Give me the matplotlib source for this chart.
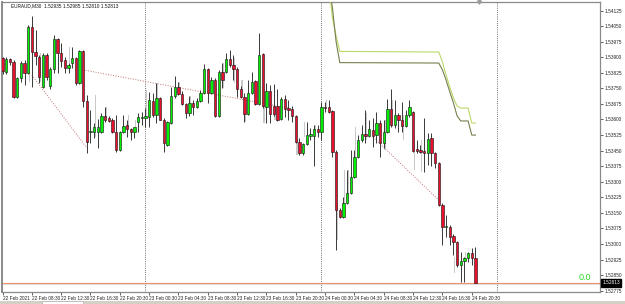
import numpy as np
import pandas as pd
import matplotlib
matplotlib.use("Agg")
import matplotlib.pyplot as plt
import matplotlib.transforms as mtransforms
from matplotlib.patches import Rectangle

symbol = "EURAUD,M30"
start_time = "2021-02-22 04:30"

opens = [1.53896, 1.53829, 1.53892, 1.53877, 1.53708, 1.53800, 1.53872, 1.53824, 1.54046, 1.53925,
         1.53901, 1.53757, 1.53911, 1.53761, 1.53843, 1.53988, 1.53921, 1.53887, 1.53848, 1.53872,
         1.53896, 1.53776, 1.53930, 1.53689, 1.53540, 1.53540, 1.53540, 1.53540, 1.53617, 1.53607,
         1.53598, 1.53540, 1.53453, 1.53540, 1.53573, 1.53554, 1.53540, 1.53588, 1.53607, 1.53607,
         1.53612, 1.53689, 1.53622, 1.53704, 1.53598, 1.53477, 1.53583, 1.53713, 1.53757, 1.53723,
         1.53675, 1.53631, 1.53680, 1.53660, 1.53689, 1.53728, 1.53843, 1.53728, 1.53790, 1.53617,
         1.53829, 1.53829, 1.53892, 1.53863, 1.53843, 1.53747, 1.53708, 1.53627, 1.53728, 1.53786,
         1.53675, 1.53916, 1.53660, 1.53737, 1.53665, 1.53665, 1.53602, 1.53699, 1.53655, 1.53651,
         1.53617, 1.53492, 1.53439, 1.53482, 1.53520, 1.53520, 1.53554, 1.53540, 1.53660, 1.53660,
         1.53641, 1.53443, 1.53164, 1.53130, 1.53198, 1.53246, 1.53323, 1.53419, 1.53501, 1.53530,
         1.53520, 1.53549, 1.53525, 1.53583, 1.53487, 1.53540, 1.53651, 1.53573, 1.53622, 1.53598,
         1.53569, 1.53622, 1.53636, 1.53458, 1.53453, 1.53448, 1.53439, 1.53511, 1.53439, 1.53390,
         1.53188, 1.53082, 1.53082, 1.53038, 1.53010, 1.52899, 1.52918, 1.52932, 1.52957, 1.52935]
highs = [1.53901, 1.53901, 1.53896, 1.53887, 1.53805, 1.53882, 1.53887, 1.54055, 1.54099, 1.54031,
         1.53911, 1.53921, 1.53921, 1.53853, 1.54007, 1.53993, 1.53969, 1.53901, 1.53872, 1.53949,
         1.53901, 1.53935, 1.53935, 1.53718, 1.53646, 1.53583, 1.53602, 1.53631, 1.53660, 1.53617,
         1.53607, 1.53622, 1.53545, 1.53622, 1.53598, 1.53559, 1.53564, 1.53631, 1.53636, 1.53655,
         1.53733, 1.53728, 1.53776, 1.53708, 1.53607, 1.53593, 1.53757, 1.53810, 1.53781, 1.53737,
         1.53680, 1.53713, 1.53694, 1.53704, 1.53742, 1.53868, 1.53848, 1.53805, 1.53800, 1.53839,
         1.53872, 1.53921, 1.53935, 1.53911, 1.53853, 1.53761, 1.53728, 1.53790, 1.53829, 1.53790,
         1.54017, 1.53921, 1.53776, 1.53766, 1.53771, 1.53747, 1.53708, 1.53718, 1.53694, 1.53665,
         1.53622, 1.53511, 1.53487, 1.53588, 1.53559, 1.53573, 1.53573, 1.53684, 1.53684, 1.53694,
         1.53646, 1.53453, 1.53173, 1.53226, 1.53357, 1.53453, 1.53453, 1.53525, 1.53573, 1.53646,
         1.53598, 1.53607, 1.53636, 1.53598, 1.53598, 1.53699, 1.53747, 1.53694, 1.53631, 1.53684,
         1.53646, 1.53694, 1.53641, 1.53501, 1.53477, 1.53607, 1.53535, 1.53535, 1.53443, 1.53395,
         1.53198, 1.53140, 1.53091, 1.53048, 1.53014, 1.52961, 1.52937, 1.52961, 1.52981, 1.52985]
lows = [1.53819, 1.53819, 1.53863, 1.53704, 1.53704, 1.53781, 1.53766, 1.53819, 1.53757, 1.53863,
        1.53776, 1.53752, 1.53790, 1.53747, 1.53824, 1.53824, 1.53853, 1.53824, 1.53824, 1.53848,
        1.53766, 1.53771, 1.53660, 1.53439, 1.53487, 1.53511, 1.53463, 1.53535, 1.53588, 1.53588,
        1.53535, 1.53443, 1.53448, 1.53535, 1.53516, 1.53501, 1.53511, 1.53540, 1.53573, 1.53564,
        1.53564, 1.53612, 1.53583, 1.53598, 1.53443, 1.53472, 1.53578, 1.53704, 1.53718, 1.53670,
        1.53607, 1.53617, 1.53622, 1.53655, 1.53684, 1.53723, 1.53680, 1.53723, 1.53612, 1.53612,
        1.53752, 1.53824, 1.53853, 1.53790, 1.53708, 1.53704, 1.53588, 1.53622, 1.53723, 1.53670,
        1.53670, 1.53655, 1.53583, 1.53583, 1.53617, 1.53593, 1.53598, 1.53612, 1.53598, 1.53588,
        1.53487, 1.53429, 1.53429, 1.53477, 1.53501, 1.53376, 1.53516, 1.53501, 1.53636, 1.53631,
        1.53419, 1.52971, 1.53125, 1.53125, 1.53193, 1.53241, 1.53318, 1.53414, 1.53492, 1.53487,
        1.53516, 1.53467, 1.53487, 1.53419, 1.53463, 1.53535, 1.53564, 1.53559, 1.53540, 1.53540,
        1.53564, 1.53612, 1.53443, 1.53439, 1.53439, 1.53347, 1.53381, 1.53376, 1.53366, 1.53183,
        1.52995, 1.53034, 1.52995, 1.52947, 1.52889, 1.52817, 1.52817, 1.52913, 1.52899, 1.52810]
closes = [1.53834, 1.53892, 1.53877, 1.53708, 1.53800, 1.53872, 1.53824, 1.54046, 1.53925, 1.53906,
          1.53805, 1.53911, 1.53805, 1.53843, 1.53988, 1.53921, 1.53882, 1.53848, 1.53863, 1.53896,
          1.53776, 1.53930, 1.53689, 1.53492, 1.53545, 1.53564, 1.53564, 1.53617, 1.53598, 1.53593,
          1.53540, 1.53453, 1.53540, 1.53569, 1.53554, 1.53540, 1.53564, 1.53612, 1.53612, 1.53617,
          1.53694, 1.53622, 1.53704, 1.53598, 1.53487, 1.53588, 1.53713, 1.53757, 1.53723, 1.53675,
          1.53631, 1.53680, 1.53660, 1.53689, 1.53728, 1.53843, 1.53728, 1.53790, 1.53617, 1.53829,
          1.53790, 1.53892, 1.53863, 1.53843, 1.53747, 1.53708, 1.53627, 1.53728, 1.53781, 1.53675,
          1.53911, 1.53665, 1.53737, 1.53627, 1.53627, 1.53598, 1.53699, 1.53651, 1.53646, 1.53617,
          1.53492, 1.53439, 1.53482, 1.53525, 1.53530, 1.53554, 1.53540, 1.53660, 1.53655, 1.53636,
          1.53443, 1.53164, 1.53130, 1.53198, 1.53246, 1.53323, 1.53419, 1.53501, 1.53530, 1.53520,
          1.53554, 1.53520, 1.53583, 1.53487, 1.53540, 1.53651, 1.53573, 1.53622, 1.53598, 1.53569,
          1.53622, 1.53660, 1.53448, 1.53448, 1.53443, 1.53439, 1.53506, 1.53439, 1.53390, 1.53188,
          1.53082, 1.53087, 1.53034, 1.53010, 1.52899, 1.52918, 1.52932, 1.52957, 1.52932, 1.52813]

# light grey "ghost" bars behind the candles
ghost_bars = [7, 10, 15, 18, 25, 28, 34, 36, 39, 42, 48, 51, 60, 63, 65, 66, 71, 74, 80, 82,
              85, 88, 91, 93, 94, 96, 99, 104, 106, 109, 112, 114, 123, 126]
ghost_highs = [1.54051, 1.53921, 1.53969, 1.53949, 1.53718, 1.53660, 1.53622, 1.53598, 1.53742, 1.53776,
               1.53781, 1.53713, 1.53872, 1.53896, 1.53790, 1.53660, 1.53742, 1.53660, 1.53501, 1.53588,
               1.53573, 1.53694, 1.53198, 1.53357, 1.53357, 1.53564, 1.53631, 1.53598, 1.53694, 1.53622,
               1.53501, 1.53501, 1.52937, 1.52961]
ghost_lows = [1.53781, 1.53781, 1.53887, 1.53872, 1.53516, 1.53607, 1.53564, 1.53549, 1.53612, 1.53670,
              1.53728, 1.53660, 1.53752, 1.53776, 1.53742, 1.53588, 1.53583, 1.53598, 1.53429, 1.53516,
              1.53540, 1.53660, 1.53019, 1.53149, 1.53226, 1.53419, 1.53501, 1.53453, 1.53564, 1.53501,
              1.53357, 1.53347, 1.52860, 1.52913]

# two indicator lines (top right)
fast_bars = [89, 90, 91, 92, 119, 120, 121, 122, 123, 124, 125, 127, 128, 129]
fast_line = [1.5425, 1.54089, 1.54002, 1.53928, 1.53925, 1.53877, 1.53814, 1.53757, 1.53704, 1.53665,
             1.53655, 1.53655, 1.53583, 1.53583]
slow_bars = [89, 90, 91, 92, 119, 120, 121, 122, 123, 124, 125, 127, 128, 129]
slow_line = [1.5425, 1.54137, 1.53974, 1.53874, 1.53872, 1.53839, 1.53790, 1.53733, 1.53680, 1.53617,
             1.53593, 1.53593, 1.53525, 1.53525]

# dotted zigzag segments
zz_from_bar = [8, 22, 101]
zz_from_price = [1.53814, 1.53839, 1.53516]
zz_to_bar = [23, 78, 119]
zz_to_price = [1.53463, 1.53655, 1.53212]

day_breaks = ["2021-02-23 00:00", "2021-02-24 00:00", "2021-02-25 00:00"]
price_ticks = [1.52775 + 0.00075 * k for k in range(19)]
indicator_value = "0.0"

n = len(opens)
times = pd.date_range(start_time, periods=n, freq="30min")
t0 = times[0]
x = np.arange(n)
o = np.array(opens)
c = np.array(closes)

W, H = 625, 304
fig = plt.figure(figsize=(W / 100, H / 100), dpi=100)
fig.patch.set_facecolor("white")
ax = fig.add_axes([2 / W, 12 / H, 598 / W, 290 / H])
ax.set_facecolor("white")
ax.set_xlim(-0.14, 162.98)
ax.set_ylim(1.52769, 1.54166)

tiny = dict(family="Liberation Sans", fontsize=3.4)

# day separators
for d in day_breaks:
    b = (pd.Timestamp(d) - t0) / pd.Timedelta("30min")
    ax.axvline(b, color="#404040", lw=0.6, ls=(0, (1, 1.6)), zorder=0)

# zigzag
for b0, p0, b1, p1 in zip(zz_from_bar, zz_from_price, zz_to_bar, zz_to_price):
    ax.plot([b0, b1], [p0, p1], color="#c07070", lw=0.7, ls=(0, (1, 1.6)), zorder=1)

# bid line
ax.axhline(closes[-1], color="#f2906c", lw=0.8, zorder=1)
ax.axhline(closes[-1] - 0.00007, color="#d8d8d8", lw=0.6, zorder=1)

# ghost bars
gh = np.array(ghost_highs)
gl = np.array(ghost_lows)
ax.bar(np.array(ghost_bars) + 0.3, gh - gl, bottom=gl, width=0.38,
       color="#c9c9c9", linewidth=0, zorder=2)

# candles
ax.vlines(x, lows, highs, color="#383838", lw=0.7, zorder=3)
bull = c >= o
body_col = np.where(bull, "#00ee00", "#e8102e")
body_h = np.maximum(np.abs(c - o), 0.000012)
ax.bar(x, body_h, bottom=np.minimum(o, c), width=0.68, color=body_col,
       edgecolor="#111111", linewidth=0.4, zorder=4)

# indicator lines
ax.plot(fast_bars, fast_line, color="#bcd86a", lw=0.8, zorder=5)
ax.plot(slow_bars, slow_line, color="#76804e", lw=0.8, zorder=5)

# right price scale
ax.yaxis.tick_right()
ax.set_yticks(price_ticks)
ax.set_yticklabels(["%.5f" % p for p in price_ticks], **tiny)
ax.tick_params(axis="y", length=2, width=0.5, pad=1.5, colors="#222222")

# time axis
tick_idx = list(range(0, n, 8))
labels = [times[i].strftime("%d %b %H:%M") for i in tick_idx]
labels[0] = times[0].strftime("%d %b %Y")
ax.set_xticks(tick_idx)
ax.set_xticklabels(labels, **tiny)
for lbl in ax.get_xticklabels():
    lbl.set_horizontalalignment("left")
ax.tick_params(axis="x", length=2, width=0.5, pad=1.2, colors="#222222")

for s in ax.spines.values():
    s.set_color("#8a8a8a")
    s.set_linewidth(0.9)
ax.spines["left"].set_linewidth(1.4)

# current price box
trans = mtransforms.blended_transform_factory(ax.transAxes, ax.transData)
ax.text(1.004, closes[-1], "%.5f" % closes[-1], transform=trans, ha="left", va="center",
        color="white", bbox=dict(boxstyle="square,pad=0.3", fc="black", ec="black"),
        zorder=10, **tiny)

# indicator value label
ax.text(158.9, 1.52841, indicator_value, color="#2ad62a", fontsize=6.5,
        family="Liberation Sans", ha="center", va="center", zorder=6)

# chart shift marker
ax.plot([n], [1.0], marker="v", ms=2.5, color="#9a9a9a",
        transform=mtransforms.blended_transform_factory(ax.transData, ax.transAxes),
        clip_on=False, zorder=10)

# top-left header
header = "%s  %.5f %.5f %.5f %.5f" % (symbol, opens[-1], highs[-1], lows[-1], closes[-1])
fig.text(11 / W, 1 - 6 / H, header, ha="left", va="center", color="#111111",
         bbox=dict(boxstyle="square,pad=0.2", fc="white", ec="none"), **tiny)

# bottom tab strip
fig.patches.append(Rectangle((0, 0), 1, 3 / H, transform=fig.transFigure,
                             fc="#d4d0c8", ec="none"))
fig.patches.append(Rectangle((42 / W, 0), 41 / W, 3 / H, transform=fig.transFigure,
                             fc="white", ec="#a0a0a0", lw=0.4))

fig.savefig("out.png", dpi=100)
